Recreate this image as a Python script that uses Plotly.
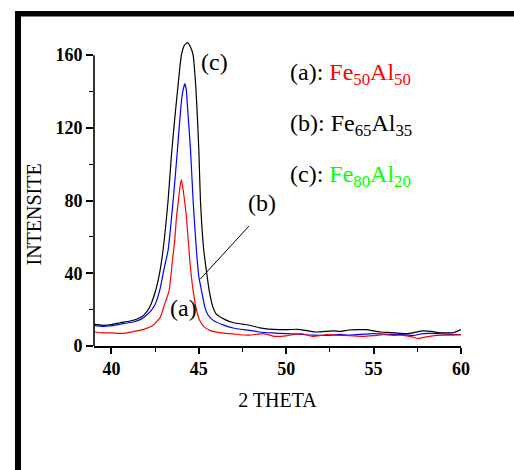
import plotly.graph_objects as go

# ---- data ----
two_theta_c = [39.0, 39.5, 40.0, 40.5, 41.0, 41.5, 41.85, 42.19, 42.48, 42.75, 42.95, 43.24, 43.43,
               43.62, 43.81, 44.0, 44.18, 44.35, 44.52, 44.67, 44.82, 44.92, 45.01, 45.09, 45.28,
               45.45, 45.59, 45.8, 46.0, 46.5, 47.0, 47.5, 47.9, 48.5, 49.0, 49.6, 50.1, 50.6,
               51.2, 51.7, 52.2, 52.7, 53.1, 53.6, 54.1, 54.6, 55.0, 55.4, 56.0, 56.5, 56.9,
               57.4, 57.84, 58.3, 58.8, 59.2, 59.56, 60.0]
intens_c = [12.0, 11.4, 11.8, 12.8, 13.6, 15.0, 17.0, 21.5, 29.0, 40.0, 52.7, 80.2, 104.9,
            125.1, 143.4, 160.0, 165.5, 166.9, 164.5, 160.0, 143.4, 125.1, 104.9, 80.2, 52.7,
            40.0, 30.6, 21.5, 17.5, 14.5, 12.8, 12.0, 11.4, 10.0, 9.3, 9.0, 9.0, 9.2,
            8.5, 7.7, 8.0, 8.3, 8.0, 8.8, 9.0, 9.0, 8.3, 7.7, 7.4, 7.0, 6.8,
            7.6, 8.3, 8.0, 7.3, 7.2, 7.3, 9.0]

two_theta_b = [39.0, 39.5, 39.9, 40.5, 41.23, 41.7, 42.0, 42.29, 42.5, 42.76, 43.0, 43.24, 43.53,
               43.75, 43.87, 44.0, 44.1, 44.2, 44.28, 44.33, 44.44, 44.54, 44.67, 44.86, 45.0,
               45.15, 45.34, 45.5, 45.82, 46.43, 46.96, 47.9, 48.5, 49.2, 50.0, 50.6, 51.2,
               52.0, 52.5, 53.07, 53.6, 54.2, 55.0, 55.5, 55.9, 56.6, 57.27, 57.84, 58.8,
               59.4, 60.0]
intens_b = [11.4, 10.8, 11.0, 12.0, 13.2, 14.8, 16.9, 19.8, 23.0, 30.6, 42.0, 52.7, 80.2,
            104.9, 119.6, 134.3, 141.0, 144.3, 141.0, 134.3, 119.6, 104.9, 80.2, 52.7, 38.0,
            30.6, 21.5, 17.5, 14.1, 11.5, 9.9, 8.6, 7.7, 7.2, 6.8, 6.6, 6.2,
            5.9, 5.9, 6.4, 6.0, 6.4, 6.8, 6.6, 6.4, 6.3, 5.8, 6.8, 6.8,
            6.4, 6.2]

two_theta_a = [39.0, 39.5, 40.0, 40.66, 41.1, 41.6, 42.0, 42.38, 42.6, 42.8, 43.05, 43.15, 43.3,
               43.49, 43.62, 43.72, 43.81, 43.9, 44.0, 44.1, 44.2, 44.29, 44.48, 44.67, 44.82,
               44.96, 45.05, 45.3, 45.63, 46.0, 46.5, 46.96, 47.35, 47.9, 48.7, 49.35, 50.0,
               50.8, 51.5, 52.3, 53.0, 53.6, 54.4, 55.0, 55.55, 56.2, 56.7, 57.2, 57.55, 58.0,
               58.6, 59.3, 60.0]
intens_a = [7.7, 7.2, 7.2, 6.9, 7.6, 8.6, 9.7, 11.4, 13.5, 16.0, 23.3, 26.0, 30.6,
            47.2, 58.0, 71.0, 78.3, 86.0, 91.6, 86.0, 78.3, 71.0, 47.2, 30.6, 22.0,
            16.5, 14.0, 10.5, 8.6, 7.6, 7.0, 6.7, 6.2, 6.0, 6.8, 5.3, 5.6,
            6.8, 5.3, 6.2, 5.9, 5.7, 5.3, 5.7, 6.2, 5.9, 5.9, 5.0, 4.1, 5.0,
            5.9, 6.0, 6.2]

x_ticks = [40, 45, 50, 55, 60]
y_ticks = [0, 40, 80, 120, 160]

SERIF = "Liberation Serif, Times New Roman, serif"

fig = go.Figure()
fig.add_trace(go.Scatter(x=two_theta_c, y=intens_c, mode="lines", name="(c)",
                         line=dict(color="black", width=1.2, shape="spline", smoothing=0.5)))
fig.add_trace(go.Scatter(x=two_theta_b, y=intens_b, mode="lines", name="(b)",
                         line=dict(color="#0000ff", width=1.2, shape="spline", smoothing=0.5)))
fig.add_trace(go.Scatter(x=two_theta_a, y=intens_a, mode="lines", name="(a)",
                         line=dict(color="#ff0000", width=1.2, shape="spline", smoothing=0.5)))

fig.update_layout(
    width=514, height=470,
    margin=dict(l=94, r=53, t=37, b=124),
    paper_bgcolor="white", plot_bgcolor="white",
    showlegend=False,
    font=dict(family=SERIF, color="black"),
    xaxis=dict(
        range=[39, 60], showgrid=False, zeroline=False,
        showline=True, linecolor="black", linewidth=1.6,
        tickmode="array", tickvals=x_ticks, ticktext=[str(v) for v in x_ticks],
        ticks="outside", ticklen=6, tickwidth=1.5, tickcolor="black",
        tickfont=dict(family=SERIF, size=18, color="black", weight="bold"),
        minor=dict(dtick=2.5, tick0=40, ticks="outside", ticklen=4, tickwidth=1.2, tickcolor="black"),
        title=dict(text="2 THETA", font=dict(family=SERIF, size=20, color="black"), standoff=15),
    ),
    yaxis=dict(
        range=[0, 170], showgrid=False, zeroline=False, showline=False,
        tickmode="array", tickvals=y_ticks, ticktext=[str(v) for v in y_ticks],
        ticks="outside", ticklen=7, tickwidth=1.5, tickcolor="black",
        tickfont=dict(family=SERIF, size=18, color="black", weight="bold"),
        minor=dict(dtick=20, tick0=0, ticks="outside", ticklen=4, tickwidth=1.2, tickcolor="black"),
    ),
)

# y axis title (placed lower than the axis centre, as in the reference)
fig.add_annotation(x=-0.1635, y=0.4256, xref="paper", yref="paper", text="INTENSITE",
                   textangle=-90, showarrow=False, xanchor="center", yanchor="middle",
                   font=dict(family=SERIF, size=20, color="black"))

# y axis line stopping at 160
fig.add_shape(type="line", xref="paper", yref="y", x0=0, x1=0, y0=0, y1=160,
              line=dict(color="black", width=1.6))

# page frame (thick left bar and top bar)
fig.add_shape(type="rect", xref="paper", yref="paper", x0=-0.2153, x1=-0.1989, y0=-0.45, y1=1.0841,
              fillcolor="black", line=dict(width=0))
fig.add_shape(type="rect", xref="paper", yref="paper", x0=-0.2153, x1=1.2, y0=1.0663, y1=1.0841,
              fillcolor="black", line=dict(width=0))

# leader line for (b)
fig.add_shape(type="line", xref="x", yref="y", x0=47.87, y0=66.0, x1=45.07, y1=36.7,
              line=dict(color="black", width=1))

lab_font = dict(family=SERIF, size=24, color="black")
fig.add_annotation(x=45.92, y=156.2, xref="x", yref="y", text="(c)", showarrow=False, font=lab_font)
fig.add_annotation(x=48.61, y=78.7, xref="x", yref="y", text="(b)", showarrow=False, font=lab_font)
fig.add_annotation(x=44.12, y=20.9, xref="x", yref="y", text="(a)", showarrow=False, font=lab_font)

legend_rows = [
    ("(a): ", "#ff0000", "Fe<sub>50</sub>Al<sub>50</sub>", 74),
    ("(b): ", "#000000", "Fe<sub>65</sub>Al<sub>35</sub>", 125),
    ("(c): ", "#00ff00", "Fe<sub>80</sub>Al<sub>20</sub>", 176),
]
for prefix, col, formula, py in legend_rows:
    fig.add_annotation(
        x=0.5286, y=(346 - py) / 309, xref="paper", yref="paper",
        xanchor="left", yanchor="middle", showarrow=False, align="left",
        text=prefix + '<span style="color:%s">%s</span>' % (col, formula),
        font=lab_font,
    )

fig.write_html("out.html")
